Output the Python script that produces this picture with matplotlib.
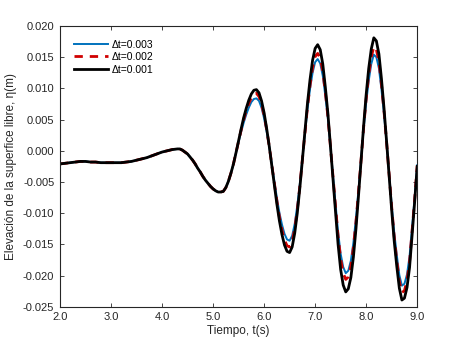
import numpy as np
import matplotlib
matplotlib.use('Agg')
import matplotlib.pyplot as plt

plt.rcParams['font.family'] = ['Liberation Sans', 'DejaVu Sans']
plt.rcParams['axes.unicode_minus'] = False

# ---- datos ----
# tiempo: cada 0.1 s hasta 4.3 s, luego cada 0.05 s
tiempo = np.concatenate([np.round(np.arange(2.0, 4.31, 0.1), 2),
                         np.round(np.arange(4.35, 9.001, 0.05), 2)])

# tramo comun (2.0 - 5.45 s), las tres soluciones coinciden
eta_inicio = [-0.0021, -0.0020, -0.0019, -0.0018, -0.0017, -0.0017, -0.0018, -0.0018,
              -0.0019, -0.0019, -0.0019, -0.0019, -0.0019, -0.0018, -0.0017, -0.0015,
              -0.0013, -0.0011, -0.0008, -0.0005, -0.0002, 0.0000, 0.0002, 0.0003,
              0.0003, 0.0001, -0.0002, -0.0005, -0.0010, -0.0015, -0.0021, -0.0028,
              -0.0034, -0.0041, -0.0047, -0.0052, -0.0057, -0.0061, -0.0064, -0.0066,
              -0.0066, -0.0065, -0.0059, -0.0049, -0.0036, -0.0021, -0.0003]

# 5.5 - 9.0 s
eta_dt003 = eta_inicio + [
    0.0014, 0.0030, 0.0045, 0.0058, 0.0069, 0.0078, 0.0083, 0.0084, 0.0080, 0.0069,
    0.0052, 0.0031, 0.0007, -0.0020, -0.0048, -0.0075, -0.0099, -0.0118, -0.0133, -0.0142,
    -0.0144, -0.0136, -0.0117, -0.0088, -0.0053, -0.0013, 0.0027, 0.0066, 0.0099, 0.0125,
    0.0142, 0.0147, 0.0140, 0.0120, 0.0088, 0.0052, 0.0007, -0.0039, -0.0085, -0.0130,
    -0.0165, -0.0186, -0.0196, -0.0192, -0.0176, -0.0147, -0.0108, -0.0062, -0.0014, 0.0034,
    0.0077, 0.0112, 0.0139, 0.0154, 0.0150, 0.0132, 0.0098, 0.0058, 0.0013, -0.0036,
    -0.0086, -0.0131, -0.0167, -0.0199, -0.0216, -0.0213, -0.0198, -0.0169, -0.0122, -0.0074,
    -0.0023]

eta_dt002 = eta_inicio + [
    0.0015, 0.0033, 0.0050, 0.0064, 0.0076, 0.0085, 0.0091, 0.0092, 0.0087, 0.0075,
    0.0057, 0.0034, 0.0008, -0.0022, -0.0051, -0.0080, -0.0106, -0.0127, -0.0143, -0.0152,
    -0.0154, -0.0146, -0.0125, -0.0095, -0.0057, -0.0014, 0.0028, 0.0070, 0.0105, 0.0133,
    0.0151, 0.0156, 0.0149, 0.0128, 0.0094, 0.0055, 0.0007, -0.0041, -0.0089, -0.0137,
    -0.0173, -0.0196, -0.0206, -0.0202, -0.0185, -0.0155, -0.0114, -0.0066, -0.0015, 0.0037,
    0.0083, 0.0122, 0.0150, 0.0167, 0.0162, 0.0143, 0.0106, 0.0063, 0.0014, -0.0038,
    -0.0090, -0.0138, -0.0176, -0.0209, -0.0227, -0.0224, -0.0208, -0.0178, -0.0128, -0.0078,
    -0.0024]

eta_dt001 = eta_inicio + [
    0.0016, 0.0035, 0.0053, 0.0068, 0.0081, 0.0091, 0.0097, 0.0098, 0.0093, 0.0080,
    0.0061, 0.0036, 0.0008, -0.0023, -0.0054, -0.0085, -0.0112, -0.0134, -0.0151, -0.0161,
    -0.0163, -0.0154, -0.0132, -0.0100, -0.0060, -0.0015, 0.0031, 0.0076, 0.0114, 0.0145,
    0.0164, 0.0170, 0.0162, 0.0139, 0.0102, 0.0060, 0.0008, -0.0045, -0.0098, -0.0150,
    -0.0190, -0.0215, -0.0226, -0.0221, -0.0203, -0.0170, -0.0125, -0.0072, -0.0016, 0.0040,
    0.0090, 0.0132, 0.0163, 0.0181, 0.0176, 0.0155, 0.0115, 0.0068, 0.0015, -0.0040,
    -0.0095, -0.0145, -0.0185, -0.0220, -0.0239, -0.0236, -0.0219, -0.0187, -0.0135, -0.0082,
    -0.0025]

etiquetas = ['\u0394t=0.003', '\u0394t=0.002', '\u0394t=0.001']
x_ticks = [2.0, 3.0, 4.0, 5.0, 6.0, 7.0, 8.0, 9.0]
y_ticks = [-0.025, -0.020, -0.015, -0.010, -0.005, 0.000, 0.005, 0.010, 0.015, 0.020]

# ---- figura ----
fig = plt.figure(figsize=(4.61, 3.46), dpi=100)
ax = fig.add_axes([0.130, 0.113, 0.775, 0.812])

ax.plot(tiempo, eta_dt003, color='#0072BD', lw=1.4, label=etiquetas[0])
ax.plot(tiempo, eta_dt002, color='#D00000', lw=2.0, ls=(0, (3, 2.5)), label=etiquetas[1])
ax.plot(tiempo, eta_dt001, color='black', lw=2.0, label=etiquetas[2])

ax.set_xlim(2.0, 9.0)
ax.set_ylim(-0.025, 0.020)
ax.set_xticks(x_ticks)
ax.set_yticks(y_ticks)
ax.set_xticklabels(['%.1f' % v for v in x_ticks])
ax.set_yticklabels(['%.3f' % v for v in y_ticks])

gris = '#262626'
for s in ax.spines.values():
    s.set_color(gris)
    s.set_linewidth(0.8)
ax.tick_params(direction='in', length=3, width=0.6, top=True, right=True,
               labelsize=8, colors=gris, pad=4)

ax.set_xlabel('Tiempo, t(s)', fontsize=8.5, color=gris, labelpad=2)
ax.set_ylabel('Elevación de la superfice libre, η(m)', fontsize=8.5, color=gris, labelpad=4)

ax.legend(loc='upper left', bbox_to_anchor=(0.012, 0.985), frameon=False, fontsize=7.5,
          handlelength=3.3, handletextpad=0.35, labelspacing=0.25, borderaxespad=0.5)

fig.savefig('out.png', dpi=100)
